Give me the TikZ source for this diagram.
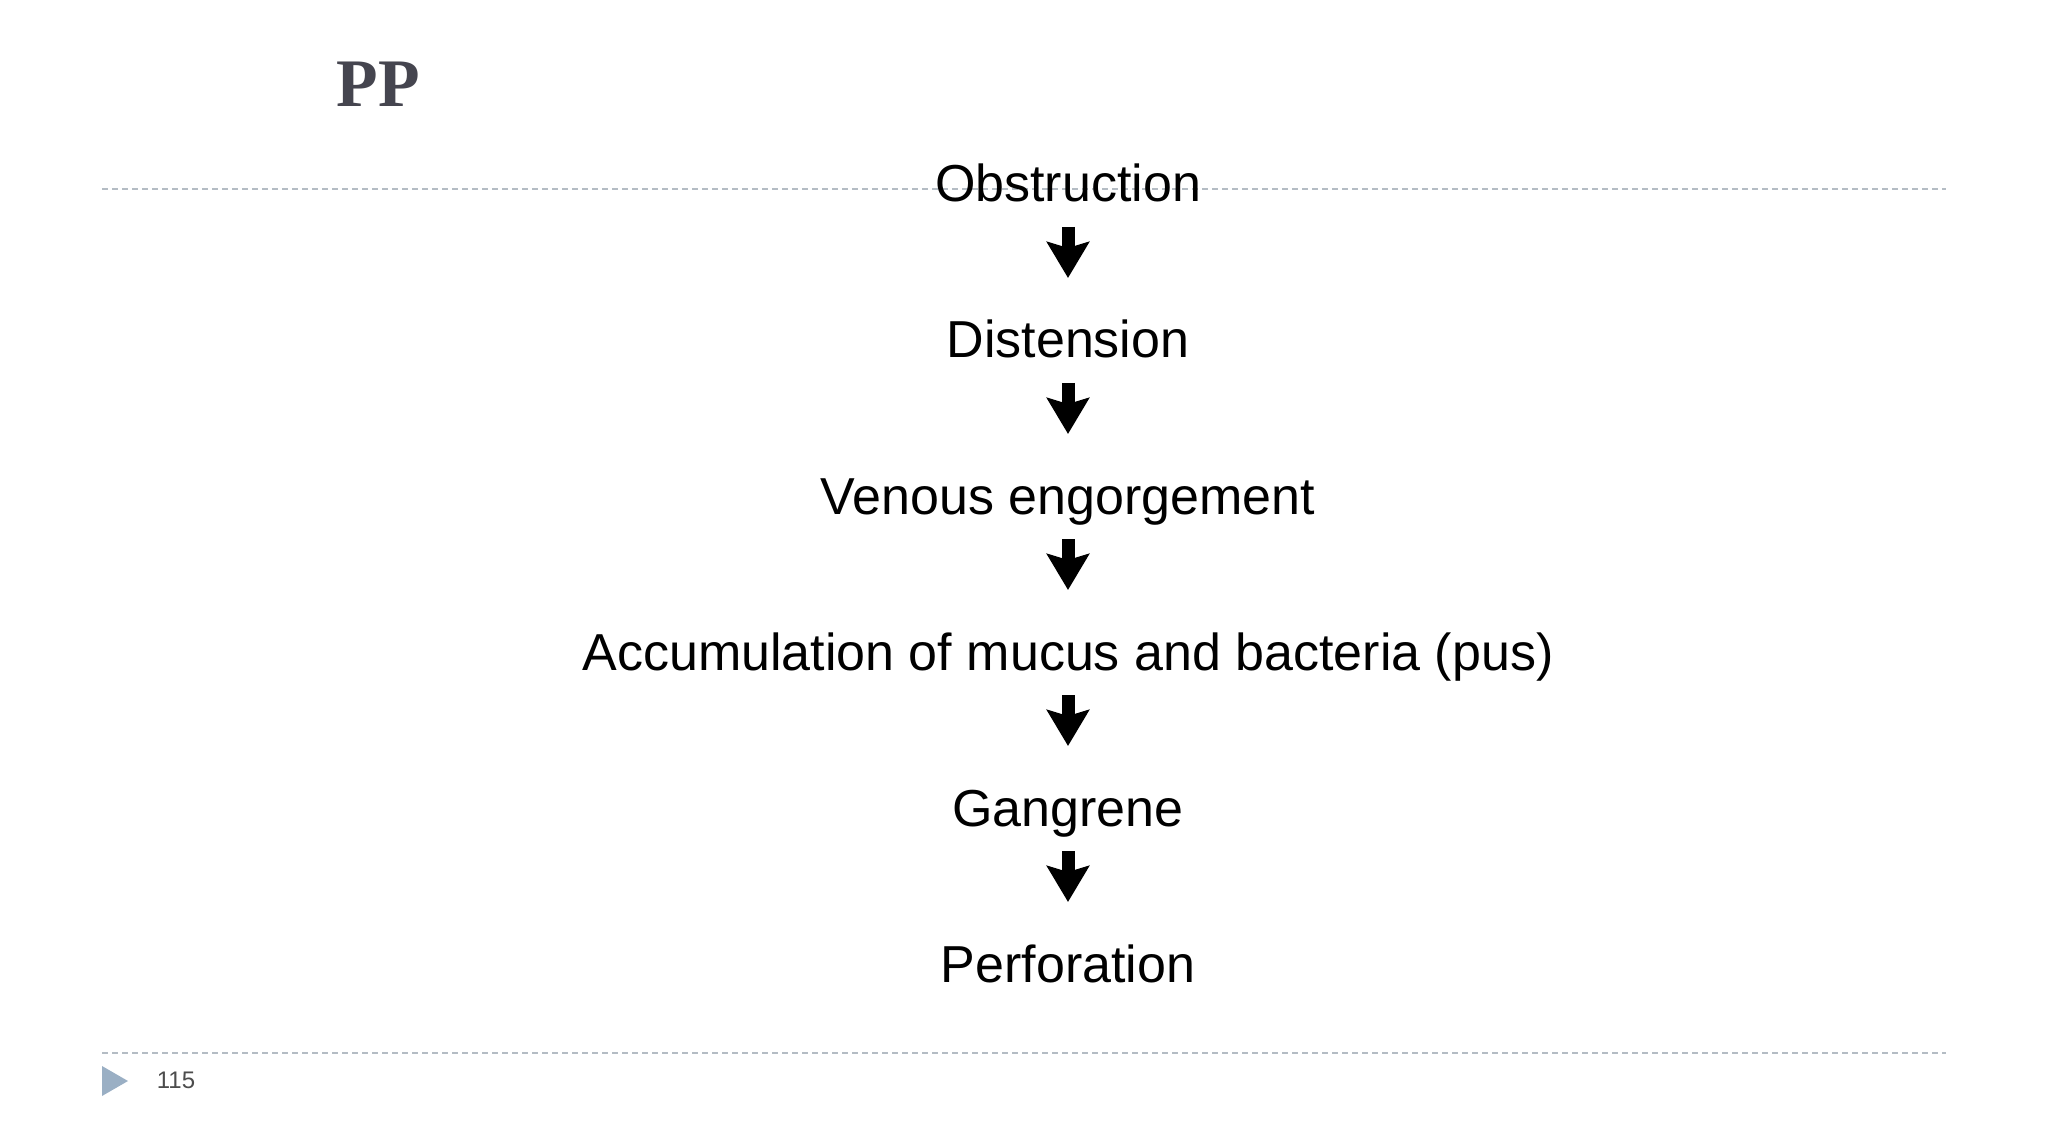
\documentclass[tikz,border=0pt]{standalone}
\usepackage{fontspec}
\setmainfont{Liberation Sans}
\newfontfamily\titlefont{Liberation Serif}
\usetikzlibrary{positioning}
\usetikzlibrary{arrows.meta}
\definecolor{titlegray}{HTML}{45454F}
\definecolor{rulegray}{HTML}{B4BCC4}
\definecolor{bullet}{HTML}{9AAFC4}
\tikzset{
  stage/.style= {
    font=\fontsize{26}{30}\selectfont,
    inner sep=0pt,
    anchor=base
  },
  flow/.style= {
    line width=6.5pt,
    -{Stealth[width=21pt,length=18pt,inset=3pt]}
  },
  slideline/.style= {
    rulegray,
    line width=0.6pt,
    dash pattern=on 3pt off 2pt
  }
}
\begin{document}
\begin{tikzpicture}[x=1pt,y=1pt]
  \useasboundingbox (0,0) rectangle (1024,-569);
  \node[text=titlegray,font=\titlefont\bfseries\fontsize{34}{36}\selectfont] (title) at (189,-42) {PP};

  \coordinate (ruleL) at (51,-94.5);
  \coordinate (ruleR) at (973,-94.5);
  \draw[slideline] (ruleL) -- (ruleR);
  \coordinate (footL) at (51,-526.5);
  \coordinate (footR) at (973,-526.5);
  \draw[slideline] (footL) -- (footR);

  \node[stage] (obs) at (534,-101) {Obstruction};
  \node[stage,below=78pt of obs.base,anchor=base] (dis) {Distension};
  \node[stage,below=78pt of dis.base,anchor=base] (ven) {Venous engorgement};
  \node[stage,below=78pt of ven.base,anchor=base] (acc) {Accumulation of mucus and bacteria (pus)};
  \node[stage,below=78pt of acc.base,anchor=base] (gan) {Gangrene};
  \node[stage,below=78pt of gan.base,anchor=base] (per) {Perforation};

  \foreach \a/\b in {obs/dis,dis/ven,ven/acc,acc/gan,gan/per}
    \draw[flow] ([yshift=-12.5pt]\a.base) -- ([yshift=40pt]\b.base);

  \fill[bullet] (51,-533) -- (64,-540.5) -- (51,-548) -- cycle;
  \node[text=black!70,font=\fontsize{12}{14}\selectfont] (page) at (88,-540) {115};
\end{tikzpicture}
\end{document}
